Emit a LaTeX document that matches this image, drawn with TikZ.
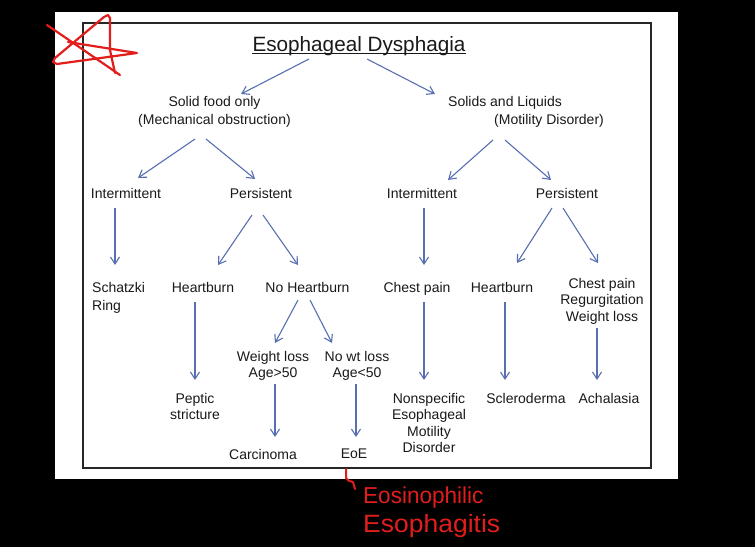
\documentclass[tikz,border=0pt]{standalone}
\usepackage{fontspec}
\setmainfont{Liberation Sans}
\usetikzlibrary{arrows.meta,calc}
\definecolor{arrblue}{RGB}{88,112,178}
\definecolor{inkred}{RGB}{226,30,28}
\definecolor{txt}{RGB}{25,25,25}
\tikzset{
  lbl/.style={font=\fontsize{14}{16.5}\selectfont, text=txt, inner sep=0pt, align=center, anchor=north},
  lblwide/.style={lbl, font=\fontsize{14}{18.5}\selectfont},
  arr/.style={draw=arrblue, line width=1.1pt, -{Straight Barb[length=7pt,width=9pt]}},
  ink/.style={draw=inkred, line width=2.2pt, line cap=round, line join=round},
  inktext/.style={text=inkred, inner sep=0pt, anchor=west},
}
\begin{document}
\begin{tikzpicture}[x=1pt,y=-1pt]
% background and frames
\fill[black] (0,0) rectangle (755,547);
\fill[white] (55,12) rectangle (678,479);
\draw[line width=1.6pt, draw=black!85] (83,23) rectangle (651,468);
\useasboundingbox (0,0) rectangle (755,547);

% title
\node[font=\fontsize{20.7}{24}\selectfont, text=txt, inner sep=0pt, anchor=base] (title) at (359,51) {Esophageal Dysphagia};
\draw[line width=1.5pt, draw=txt] ($(title.base west)+(0,2.5)$) -- ($(title.base east)+(0,2.5)$);

% level 1
\node[lblwide] (solid) at (214.5,96) {Solid food only\\(Mechanical obstruction)};
\node[lblwide, align=left, anchor=north west] (liquids) at (448,96) {Solids and Liquids\\\hspace*{46pt}(Motility Disorder)};

% level 2
\node[lbl] (intL) at (126,188) {Intermittent};
\node[lbl] (perL) at (261,188) {Persistent};
\node[lbl] (intR) at (422,188) {Intermittent};
\node[lbl] (perR) at (567,188) {Persistent};

% level 3
\node[lblwide, align=left, anchor=north west] (schatzki) at (92,282) {Schatzki\\Ring};
\node[lbl] (hbL) at (203,282) {Heartburn};
\node[lbl] (nohb) at (307.5,282) {No Heartburn};
\node[lbl] (chest) at (417,282) {Chest pain};
\node[lbl] (hbR) at (502,282) {Heartburn};
\node[lbl] (cpr) at (602,278) {Chest pain\\Regurgitation\\Weight loss};

% level 4
\node[lbl] (peptic) at (195,393) {Peptic\\stricture};
\node[lbl] (wl) at (273,351) {Weight loss\\Age>50};
\node[lbl] (nowl) at (357,351) {No wt loss\\Age<50};
\node[lbl] (nonspec) at (429,393) {Nonspecific\\Esophageal\\Motility\\Disorder};
\node[lbl] (sclero) at (526,393) {Scleroderma};
\node[lbl] (achal) at (609,393) {Achalasia};

% level 5
\node[lbl] (carc) at (263,449) {Carcinoma};
\node[lbl] (eoe) at (354,449) {EoE};

% arrows
\draw[arr] ($(title.base)+(-50,8)$) -- ($(solid.north)+(26.5,-2)$);
\draw[arr] ($(title.base)+(8,8)$) -- ($(liquids.north west)+(-13,-2)$);

\draw[arr] ($(solid.north)+(-19.5,43)$) -- ($(intL.north)+(12,-10)$);
\draw[arr] ($(solid.north)+(-8.5,43)$) -- ($(perL.north)+(-6,-9)$);
\draw[arr] ($(liquids.north west)+(45,44)$) -- ($(intR.north)+(26,-8)$);
\draw[arr] ($(liquids.north west)+(57,44)$) -- ($(perR.north)+(-16,-8)$);

\draw[arr] ($(intL.north)+(-11,20)$) -- ($(schatzki.north west)+(23,-17)$);
\draw[arr] ($(perL.north)+(-9,27)$) -- ($(hbL.north)+(15,-17)$);
\draw[arr] ($(perL.north)+(2,27)$) -- ($(nohb.north)+(-9.5,-17)$);
\draw[arr] ($(intR.north)+(2,20)$) -- ($(chest.north)+(7,-17)$);
\draw[arr] ($(perR.north)+(-15,20)$) -- ($(hbR.north)+(15,-19)$);
\draw[arr] ($(perR.north)+(-4,20)$) -- ($(cpr.north)+(-4,-15)$);

\draw[arr] ($(hbL.north)+(-8,20)$) -- ($(peptic.north)+(0,-13)$);
\draw[arr] ($(nohb.north)+(-9.5,18)$) -- ($(wl.north)+(2,-8)$);
\draw[arr] ($(nohb.north)+(2.5,18)$) -- ($(nowl.north)+(-25,-8)$);
\draw[arr] ($(chest.north)+(7,20)$) -- ($(nonspec.north)+(-5,-13)$);
\draw[arr] ($(hbR.north)+(3,20)$) -- ($(sclero.north)+(-21,-13)$);
\draw[arr] ($(cpr.north)+(-5,50)$) -- ($(achal.north)+(-12,-13)$);

\draw[arr] ($(wl.north)+(2,33)$) -- ($(carc.north)+(12,-12)$);
\draw[arr] ($(nowl.north)+(-1,33)$) -- ($(eoe.north)+(2,-12)$);

% red annotations
\draw[ink] (47,25) -- (120,75);
\draw[ink] (115,73) -- (110,50) -- (110,18) -- (108,15) -- (104,17)
  -- (55,58) -- (53,62) -- (57,64) -- (137,53) -- (68,42);
\coordinate (hook) at ($(eoe.north)+(-8,20)$);
\draw[ink, line width=2pt] (hook) -- ++(0,9) .. controls ++(1,3) and ++(-3,-1) .. ++(7,4) -- ++(2,7);
\node[inktext, font=\fontsize{23}{23}\selectfont, xscale=0.98] (eos1) at (363,498) {Eosinophilic};
\node[inktext, font=\fontsize{25}{25}\selectfont, xscale=1.06] (eos2) at (363,526) {Esophagitis};
\end{tikzpicture}
\end{document}
